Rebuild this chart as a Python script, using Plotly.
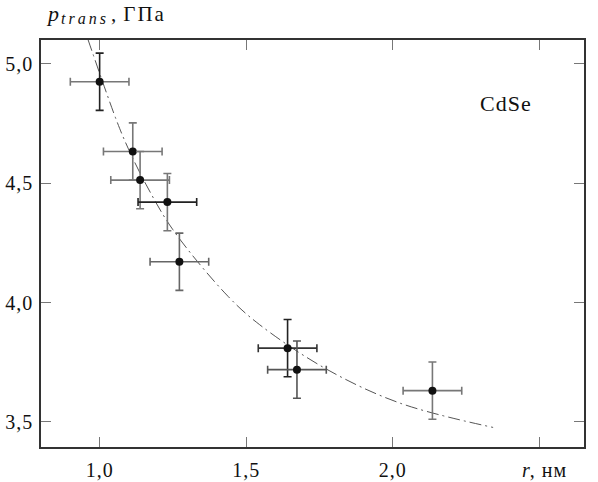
import plotly.graph_objects as go

# Data points (radius r in nm, pressure p in GPa) with errors
r_vals = [1.00, 1.113, 1.138, 1.231, 1.272, 1.641, 1.673, 2.135]
p_vals = [4.925, 4.633, 4.513, 4.421, 4.171, 3.809, 3.719, 3.631]
r_err = [0.10, 0.10, 0.10, 0.10, 0.10, 0.10, 0.10, 0.10]
p_err = [0.12, 0.12, 0.12, 0.12, 0.12, 0.12, 0.12, 0.12]

# Fit curve
fit_r = [0.960, 1.057, 1.097, 1.159, 1.250, 1.438, 1.546, 1.774, 2.024, 2.342]
fit_p = [5.103, 4.765, 4.647, 4.493, 4.305, 4.026, 3.907, 3.721, 3.579, 3.477]

x_ticks = [1.0, 1.5, 2.0, 2.5]
x_tick_text = ["1,0", "1,5", "2,0", ""]
y_ticks = [3.5, 4.0, 4.5, 5.0]
y_tick_text = ["3,5", "4,0", "4,5", "5,0"]

# Error bar colours (x, y) per point
err_colors = [("#777", "#222"), ("#777", "#777"), ("#777", "#777"), ("#222", "#777"),
              ("#666", "#666"), ("#333", "#222"), ("#555", "#555"), ("#777", "#777")]

FONT = "Liberation Serif"


def spaced(t, px):
    return "<span style='letter-spacing:%dpx'>%s</span>" % (px, t)


fig = go.Figure()
fig.add_trace(go.Scatter(
    x=fit_r, y=fit_p, mode="lines", line_shape="spline",
    line=dict(color="#555", width=1, dash="12px,4px,2px,4px"),
    showlegend=False, hoverinfo="skip"))

for i in range(len(r_vals)):
    cx, cy = err_colors[i]
    fig.add_trace(go.Scatter(
        x=[r_vals[i]], y=[p_vals[i]], mode="markers",
        marker=dict(color="#111", size=8),
        error_x=dict(type="data", array=[r_err[i]], color=cx, thickness=1.6, width=4),
        error_y=dict(type="data", array=[p_err[i]], color=cy, thickness=1.6, width=4),
        showlegend=False))

axis_common = dict(showline=True, linecolor="#333", linewidth=1.5, mirror="ticks",
                   ticks="inside", ticklen=10, tickcolor="#777", tickwidth=1,
                   showgrid=False, zeroline=False, automargin=False,
                   tickfont=dict(family=FONT, size=20, color="#111"))

fig.update_layout(
    width=598, height=482,
    margin=dict(l=41, r=14, t=40, b=35),
    paper_bgcolor="white", plot_bgcolor="white",
    xaxis=dict(range=[0.8, 2.652], tickvals=x_ticks,
               ticktext=[spaced(t, 1) for t in x_tick_text],
               ticklabelstandoff=4, **axis_common),
    yaxis=dict(range=[3.395, 5.10], tickvals=y_ticks,
               ticktext=[spaced(t, 1) for t in y_tick_text],
               ticklabelstandoff=2, **axis_common),
    annotations=[
        dict(text="<i>p</i>", xref="paper", yref="paper",
             x=0.0055, y=1.065, xanchor="left", yanchor="middle", showarrow=False,
             font=dict(family=FONT, size=22, color="#111")),
        dict(text="<i>" + spaced("tran", 3) + "s</i>", xref="paper", yref="paper",
             x=0.0331, y=1.0525, xanchor="left", yanchor="middle", showarrow=False,
             font=dict(family=FONT, size=16, color="#111")),
        dict(text=spaced(",", 7) + spaced("ГПа", 2), xref="paper", yref="paper",
             x=0.1250, y=1.0627, xanchor="left", yanchor="middle", showarrow=False,
             font=dict(family=FONT, size=21, color="#111")),
        dict(text="<i>r</i>" + spaced(", нм", 1), xref="paper", yref="paper",
             x=0.882, y=0, xanchor="left", yanchor="top", yshift=-10, showarrow=False,
             font=dict(family=FONT, size=20, color="#111")),
        dict(text=spaced("CdSe", 1), xref="paper", yref="paper",
             x=0.805, y=0.845, xanchor="left", yanchor="middle", showarrow=False,
             font=dict(family=FONT, size=22, color="#111")),
    ],
)

fig.write_html("out.html")
